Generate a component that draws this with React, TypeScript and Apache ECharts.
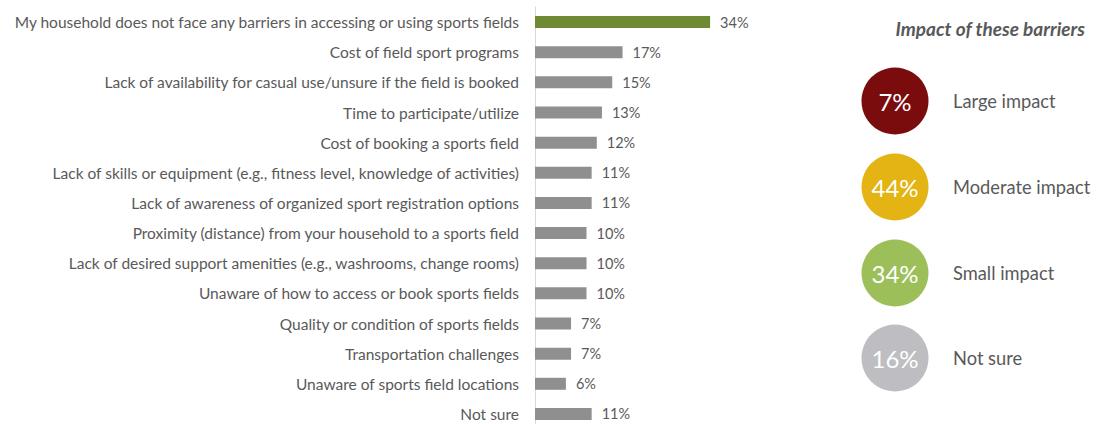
import React, { useEffect, useRef } from "react";
import * as echarts from "echarts";

const categories = [
  "My household does not face any barriers in accessing or using sports fields",
  "Cost of field sport programs",
  "Lack of availability for casual use/unsure if the field is booked",
  "Time to participate/utilize",
  "Cost of booking a sports field",
  "Lack of skills or equipment (e.g., fitness level, knowledge of activities)",
  "Lack of awareness of organized sport registration options",
  "Proximity (distance) from your household to a sports field",
  "Lack of desired support amenities (e.g., washrooms, change rooms)",
  "Unaware of how to access or book sports fields",
  "Quality or condition of sports fields",
  "Transportation challenges",
  "Unaware of sports field locations",
  "Not sure",
];
const values = [34, 17, 15, 13, 12, 11, 11, 10, 10, 10, 7, 7, 6, 11];

const impactTitle = "Impact of these barriers";
const impactLabels = ["Large impact", "Moderate impact", "Small impact", "Not sure"];
const impactValues = [7, 44, 34, 16];
const impactColors = ["#7A0C0E", "#E3B413", "#9DBF5A", "#BEBEC2"];

const FONT = "Lato";

export default function App() {
  const ref = useRef<HTMLDivElement>(null);
  useEffect(() => {
    const chart = echarts.init(ref.current!, undefined, { renderer: "svg" });
    const circleY = [101, 187, 273, 358];
    const graphics: any[] = [
      {
        type: "text",
        x: 1085,
        y: 28,
        style: {
          text: impactTitle,
          font: `italic bold 19px ${FONT}`,
          fill: "#595959",
          align: "right",
          verticalAlign: "middle",
        },
      },
    ];
    impactValues.forEach((v, i) => {
      graphics.push({
        type: "circle",
        shape: { cx: 895, cy: circleY[i], r: 33.5 },
        style: { fill: impactColors[i] },
      });
      graphics.push({
        type: "text",
        x: 895,
        y: circleY[i],
        style: {
          text: v + "%",
          font: `24px ${FONT}`,
          fill: "#ffffff",
          align: "center",
          verticalAlign: "middle",
        },
      });
      graphics.push({
        type: "text",
        x: 953,
        y: circleY[i],
        style: {
          text: impactLabels[i],
          font: `18.3px ${FONT}`,
          fill: "#595959",
          align: "left",
          verticalAlign: "middle",
        },
      });
    });

    chart.setOption({
      animation: false,
      grid: { left: 535, top: 7, width: 206, height: 422, outerBoundsMode: "none" },
      xAxis: {
        type: "value",
        min: 0,
        max: 40,
        show: false,
      },
      yAxis: {
        type: "category",
        inverse: true,
        data: categories,
        axisLine: { show: true, lineStyle: { color: "#D9D9D9", width: 1 } },
        axisTick: { show: false },
        axisLabel: {
          margin: 16,
          fontFamily: FONT,
          fontSize: 15.5,
          color: "#595959",
        },
      },
      series: [
        {
          type: "bar",
          barWidth: 12,
          data: values.map((v, i) => ({
            value: v,
            itemStyle: { color: i === 0 ? "#6F8A33" : "#8F8F8F" },
          })),
          label: {
            show: true,
            position: "right",
            distance: 10,
            formatter: "{c}%",
            fontFamily: FONT,
            fontSize: 14.5,
            color: "#595959",
          },
        },
      ],
      graphic: graphics,
    });
    return () => chart.dispose();
  }, []);
  return <div ref={ref} style={{ width: 1099, height: 424, position: "absolute", left: 0, top: 0 }} />;
}
